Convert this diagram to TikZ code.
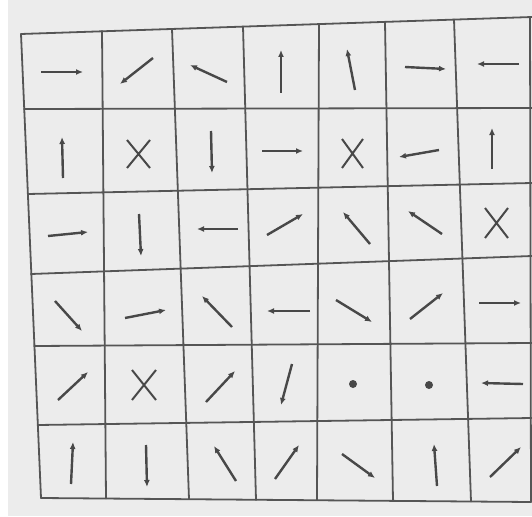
\documentclass[tikz,border=0pt]{standalone}
\usetikzlibrary{arrows.meta}
\definecolor{paper}{RGB}{236,236,236}
\definecolor{ink}{RGB}{72,72,72}
\definecolor{rule}{RGB}{85,85,85}
\tikzset{
  gridline/.style={draw=rule, line width=1.8pt, line cap=round},
  vec/.style={draw=ink, line width=2.4pt, -{Latex[length=7pt,width=6pt]}},
  cross/.style={draw=ink, line width=2pt},
  spot/.style={fill=ink, draw=none},
}
\begin{document}
\begin{tikzpicture}[x=1pt,y=-1pt]
\useasboundingbox (0,0) rectangle (532,516);
\fill[white] (0,0) rectangle (532,516);
\fill[paper] (8,0) rectangle (532,516);
% horizontal rules
\coordinate (h0l) at (21,34);   \coordinate (h0r) at (532,17);
\coordinate (h1l) at (24,109);  \coordinate (h1r) at (532,108);
\coordinate (h2l) at (28,194);  \coordinate (h2r) at (532,183);
\coordinate (h3l) at (31,274);  \coordinate (h3r) at (532,256);
\coordinate (h4l) at (34,346);  \coordinate (h4r) at (532,343);
\coordinate (h5l) at (38,425);  \coordinate (h5r) at (532,418);
\coordinate (h6l) at (41,498);  \coordinate (h6r) at (531,502);
\foreach \i in {0,...,6}{\draw[gridline] (h\i l) -- (h\i r);}
% vertical rules
\coordinate (v0t) at (21,34);   \coordinate (v0b) at (41,498);
\coordinate (v1t) at (102,31);  \coordinate (v1b) at (106,498.5);
\coordinate (v2t) at (172,29);  \coordinate (v2b) at (189,499);
\coordinate (v3t) at (243,26.6);\coordinate (v3b) at (256,500);
\coordinate (v4t) at (319,24);  \coordinate (v4b) at (317,500);
\coordinate (v5t) at (385,22);  \coordinate (v5b) at (393,501);
\coordinate (v6t) at (454,19.5);\coordinate (v6b) at (471,501.5);
\coordinate (v7t) at (530,17);  \coordinate (v7b) at (531,502);
\foreach \i in {0,...,7}{\draw[gridline] (v\i t) -- (v\i b);}
% row 1
\draw[vec] (41,72) -- (83,72);
\draw[vec] (153,58) -- (120,84);
\draw[vec] (227,82) -- (190,65);
\draw[vec] (281,93) -- (281,50);
\draw[vec] (355,90) -- (347,49);
\draw[vec] (405,67) -- (446,69);
\draw[vec] (519,64) -- (477,64);
% row 2
\draw[vec] (63,178) -- (62,137);
\draw[cross] (127,140) -- (150,168) (150,140) -- (127,168);
\draw[vec] (211,131) -- (212,173);
\draw[vec] (262,151) -- (303,151);
\draw[cross] (342,139) -- (363,168) (363,139) -- (342,168);
\draw[vec] (439,150) -- (399,157);
\draw[vec] (492,169) -- (492,128);
% row 3
\draw[vec] (48,236) -- (88,232);
\draw[vec] (139,214) -- (141,256);
\draw[vec] (238,229) -- (197,229);
\draw[vec] (267,235) -- (303,214);
\draw[vec] (370,244) -- (343,212);
\draw[vec] (442,234) -- (408,211);
\draw[cross] (485,208) -- (508,238) (508,208) -- (485,238);
% row 4
\draw[vec] (55,301) -- (82,331);
\draw[vec] (125,318) -- (166,310);
\draw[vec] (232,327) -- (202,296);
\draw[vec] (310,311) -- (267,311);
\draw[vec] (336,300) -- (372,322);
\draw[vec] (410,319) -- (443,293);
\draw[vec] (479,303) -- (521,303);
% row 5
\draw[vec] (58,400) -- (88,372);
\draw[cross] (132,370) -- (156,400) (156,370) -- (132,400);
\draw[vec] (206,402) -- (235,371);
\draw[vec] (292,364) -- (281,405);
\fill[spot] (353,384) circle (4);
\fill[spot] (429,385) circle (4);
\draw[vec] (523,384) -- (481,383);
% row 6
\draw[vec] (71,484) -- (73,442);
\draw[vec] (146,445) -- (147,487);
\draw[vec] (236,481) -- (214,446);
\draw[vec] (275,479) -- (299,445);
\draw[vec] (342,454) -- (375,478);
\draw[vec] (437,486) -- (434,444);
\draw[vec] (490,477) -- (521,447);
\end{tikzpicture}
\end{document}
